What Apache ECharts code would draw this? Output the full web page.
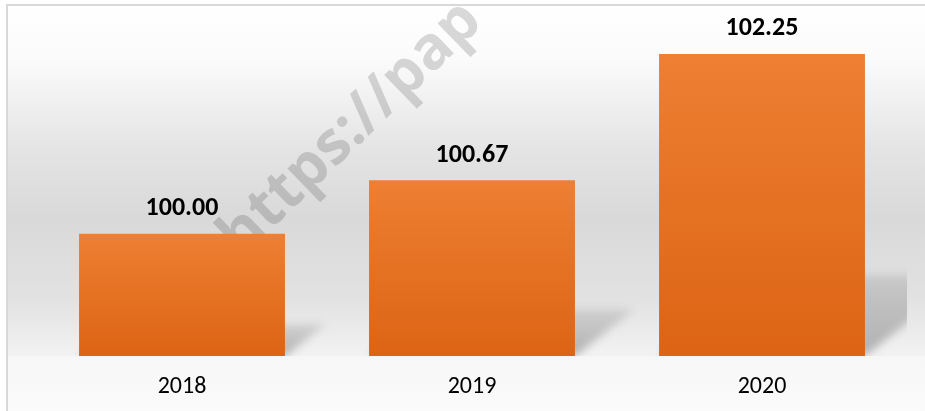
<!DOCTYPE html>
<html>
<head>
<meta charset="utf-8">
<script src="https://cdn.jsdelivr.net/npm/echarts@6/dist/echarts.min.js"></script>
<style>
  html, body { margin: 0; padding: 0; background: #ffffff; }
  #chart { width: 925px; height: 411px; }
</style>
</head>
<body>
<div id="chart"></div>
<script>
var years = ['2018', '2019', '2020'];
var indexValues = [100.00, 100.67, 102.25];
var yMin = 98.47;
var yMax = 102.6;

var fontFamily = 'Carlito, "Open Sans", sans-serif';
var barWidthRatio = 0.71;

// 初始化
var myChart = echarts.init(document.getElementById('chart'));

// perspective shadow behind each bar (shape moved far away, only its blurred shadow shows)
function renderShadow(params, api) {
    var idx = api.value(0);
    var top = api.coord([idx, api.value(1)]);
    var base = api.coord([idx, yMin]);
    var w = api.size([1, 0])[0] * barWidthRatio;
    var h = base[1] - top[1];
    var xL = top[0] - w / 2;
    var xR = top[0] + w / 2;
    var dx = h * 0.34;
    var dy = h * 0.27;
    var far = 3000;
    return {
        type: 'polygon',
        shape: {
            points: [
                [xL + far, base[1]],
                [xR + far, base[1]],
                [xR + dx + far, base[1] - dy],
                [xL + dx + far, base[1] - dy]
            ]
        },
        style: {
            fill: new echarts.graphic.LinearGradient(0, 0, 0, 1, [
                { offset: 0, color: 'rgba(0,0,0,0.35)' },
                { offset: 1, color: 'rgba(0,0,0,1)' }
            ]),
            shadowColor: 'rgba(0,0,0,0.27)',
            shadowBlur: 9,
            shadowOffsetX: -far,
            shadowOffsetY: 0
        }
    };
}

myChart.setOption({
    animation: false,
    graphic: [
        {
            type: 'rect',
            z: 0,
            shape: { x: 7, y: 5, width: 930, height: 420 },
            style: {
                fill: new echarts.graphic.LinearGradient(0, 0, 0, 1, [
                    { offset: 0, color: '#ffffff' },
                    { offset: 0.13, color: '#fbfbfb' },
                    { offset: 0.345, color: '#e4e4e4' },
                    { offset: 0.505, color: '#d9d9d9' },
                    { offset: 0.70, color: '#e2e2e2' },
                    { offset: 0.833, color: '#f2f2f2' },
                    { offset: 0.836, color: '#f7f7f7' },
                    { offset: 1, color: '#fbfbfb' }
                ]),
                stroke: '#d9d9d9',
                lineWidth: 2
            }
        },
        {
            type: 'text',
            z: 1,
            x: 250,
            y: 268,
            rotation: 44 * Math.PI / 180,
            style: {
                text: 'https://pap',
                font: 'bold 60px "Open Sans", sans-serif',
                fill: 'rgba(0,0,0,0.15)',
                align: 'left',
                verticalAlign: 'bottom'
            }
        }
    ],
    grid: {
        left: 37,
        right: 18,
        top: 26,
        bottom: 55,
        containLabel: false
    },
    xAxis: {
        type: 'category',
        data: years,
        axisLine: { show: false },
        axisTick: { show: false },
        axisLabel: {
            margin: 19,
            color: '#000000',
            fontSize: 24,
            fontFamily: fontFamily
        }
    },
    yAxis: {
        type: 'value',
        min: yMin,
        max: yMax,
        show: false,
        splitLine: { show: false }
    },
    series: [
        {
            type: 'custom',
            name: 'shadow',
            z: 1,
            clip: true,
            renderItem: renderShadow,
            data: years.map(function (y, i) { return [i, indexValues[i]]; })
        },
        {
            type: 'bar',
            name: 'index',
            z: 2,
            data: indexValues,
            barWidth: (barWidthRatio * 100) + '%',
            itemStyle: {
                color: new echarts.graphic.LinearGradient(0, 0, 0, 1, [
                    { offset: 0, color: '#ee7f33' },
                    { offset: 1, color: '#dc6414' }
                ])
            },
            label: {
                show: true,
                position: 'top',
                distance: 12,
                formatter: function (p) { return p.value.toFixed(2); },
                color: '#000000',
                fontWeight: 'bold',
                fontSize: 26,
                fontFamily: fontFamily
            }
        }
    ]
});
</script>
</body>
</html>
